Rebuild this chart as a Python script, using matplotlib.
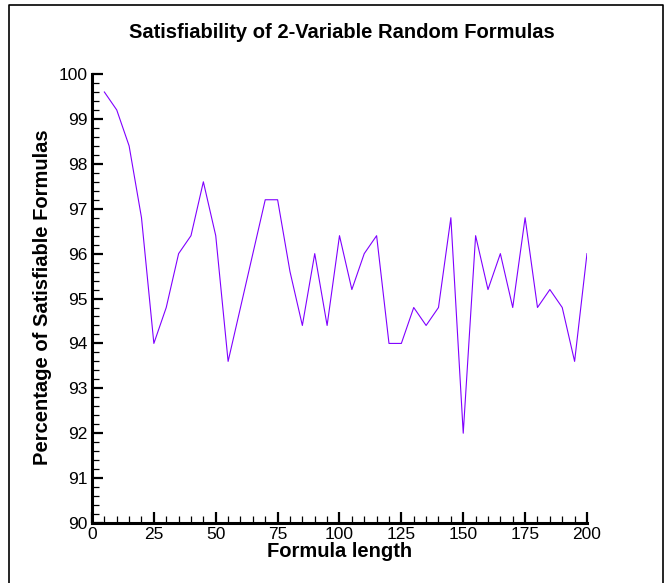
import matplotlib
matplotlib.use("Agg")
import matplotlib.pyplot as plt
from matplotlib.ticker import MultipleLocator
from matplotlib.lines import Line2D

# ======================
# |        DATA        |
# ======================
formula_length = [5, 10, 15, 20, 25, 30, 35, 40, 45, 50,
                  55, 60, 65, 70, 75, 80, 85, 90, 95, 100,
                  105, 110, 115, 120, 125, 130, 135, 140, 145, 150,
                  155, 160, 165, 170, 175, 180, 185, 190, 195, 200]
pct_satisfiable = [99.6, 99.2, 98.4, 96.8, 94.0, 94.8, 96.0, 96.4, 97.6, 96.4,
                   93.6, 94.8, 96.0, 97.2, 97.2, 95.6, 94.4, 96.0, 94.4, 96.4,
                   95.2, 96.0, 96.4, 94.0, 94.0, 94.8, 94.4, 94.8, 96.8, 92.0,
                   96.4, 95.2, 96.0, 94.8, 96.8, 94.8, 95.2, 94.8, 93.6, 96.0]
x_ticks = [0, 25, 50, 75, 100, 125, 150, 175, 200]
y_ticks = [90, 91, 92, 93, 94, 95, 96, 97, 98, 99, 100]

plt.rcParams['font.family'] = ['Liberation Sans', 'DejaVu Sans']

# ======================
# |       FIGURE       |
# ======================
fig = plt.figure(figsize=(6.69, 5.83), dpi=100)
ax = fig.add_axes([0.1375, 0.1029, 0.7399, 0.7701])

ax.plot(formula_length, pct_satisfiable, color='#8000ff', linewidth=0.8)

ax.set_xlim(0, 200)
ax.set_ylim(90, 100)
ax.set_xticks(x_ticks)
ax.set_yticks(y_ticks)
ax.xaxis.set_minor_locator(MultipleLocator(5))
ax.yaxis.set_minor_locator(MultipleLocator(0.2))

# Tecplot-ish look: only left and bottom axes, ticks pointing in
ax.spines['top'].set_visible(False)
ax.spines['right'].set_visible(False)
ax.spines['left'].set_linewidth(2.2)
ax.spines['bottom'].set_linewidth(2.2)
ax.tick_params(which='major', direction='in', length=8, width=1.6,
               labelsize=12.5, pad=3)
ax.tick_params(which='minor', direction='in', length=5, width=0.9)

# Titles and labels
fig.text(0.511, 0.945, "Satisfiability of 2-Variable Random Formulas",
         ha='center', va='center', fontsize=14.5, fontweight='bold')
fig.text(0.5075, 0.054, "Formula length",
         ha='center', va='center', fontsize=14.5, fontweight='bold')
fig.text(0.063, 0.49, "Percentage of Satisfiable Formulas", rotation=90,
         ha='center', va='center', fontsize=14.5, fontweight='bold')

# Frame round the figure (left, top, right)
frame_x = [9 / 669, 9 / 669, 663 / 669, 663 / 669]
frame_y = [0.0, 1 - 4.5 / 583, 1 - 4.5 / 583, 0.0]
fig.add_artist(Line2D(frame_x, frame_y, color='black', linewidth=1.2,
                      transform=fig.transFigure))

fig.savefig("out.png", dpi=100)
